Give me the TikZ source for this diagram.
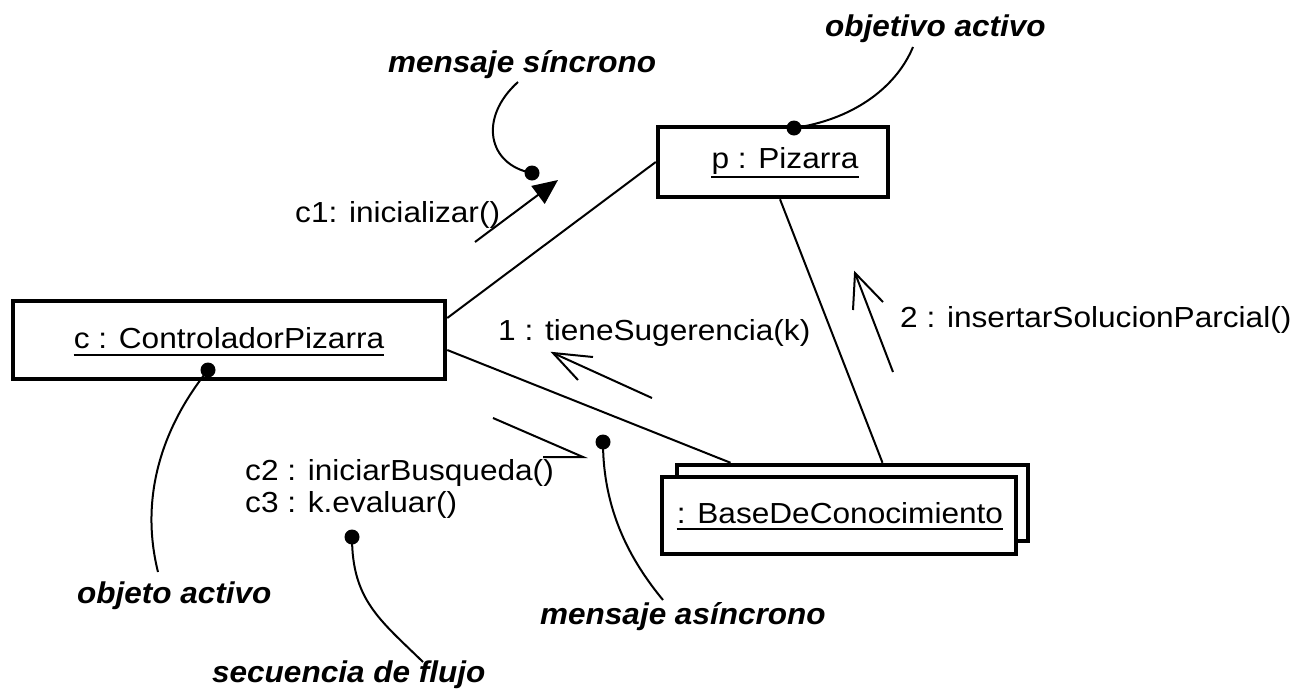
\documentclass[tikz,border=0pt]{standalone}
\usepackage{fontspec}
\setmainfont{Liberation Sans}[FakeStretch=1.09]
\newfontfamily\notefont{Liberation Sans}[FakeStretch=1.05]
\usetikzlibrary{arrows.meta}
\begin{document}
\begin{tikzpicture}[x=1pt,y=-1pt,
  objbox/.style={draw, line width=4.5pt, rectangle, inner sep=0pt, fill=white},
  lbl/.style={inner sep=0pt, font=\fontsize{29}{33}\selectfont, anchor=base},
  msg/.style={inner sep=0pt, font=\fontsize{29}{33}\selectfont, anchor=base west},
  note/.style={inner sep=0pt, font=\notefont\bfseries\itshape\fontsize{30}{34}\selectfont, anchor=base west},
  link/.style={line width=2pt},
  uline/.style={line width=2pt},
  callout/.style={line width=2pt},
  dotm/.style={circle, fill=black, inner sep=0pt, minimum size=15pt},
  stick/.style={line width=2pt, line join=miter, line cap=butt},
]
\useasboundingbox (0,0) rectangle (1303,694);

% object boxes
\node[objbox, minimum width=432pt, minimum height=78pt] (c) at (229,340) {};
\node[objbox, minimum width=230pt, minimum height=70pt] (p) at (773,162) {};
\node[objbox, minimum width=351pt, minimum height=76pt] (bb) at (852.5,503) {};
\node[objbox, minimum width=354pt, minimum height=77pt] (bf) at (839,515.5) {};

% box labels
\node[lbl] (ct) at (229,348) {c : ControladorPizarra};
\node[lbl] (pt) at (785,168) {p : Pizarra};
\node[lbl] (bt) at (840,523) {: BaseDeConocimiento};
\draw[uline] ([yshift=-7pt]ct.base west) -- ([yshift=-7pt]ct.base east);
\draw[uline] ([yshift=-9pt]pt.base west) -- ([yshift=-9pt]pt.base east);
\draw[uline] ([yshift=-6pt]bt.base west) -- ([yshift=-6pt]bt.base east);

% links
\draw[link] ([yshift=22pt]c.east) -- (p.west);
\draw[link] ([yshift=-10pt]c.east) -- ([xshift=-122pt]bb.north);
\draw[link] ([xshift=7pt]p.south) -- ([xshift=30pt]bb.north);

% message c1 (synchronous)
\coordinate (m1s) at (475,242);
\coordinate (m1e) at (558,180);
\draw[link, -{Triangle[length=25pt,width=22pt]}] (m1s) -- (m1e);
\node[msg] (m1t) at (295,222) {c1: inicializar()};

% message 1
\coordinate (m2tail) at (652,398);
\coordinate (m2tip) at (553,353);
\coordinate (m2b1) at (593,357);
\coordinate (m2b2) at (578,380);
\draw[stick] (m2tail) -- (m2tip);
\draw[stick] (m2b1) -- (m2tip) -- (m2b2);
\node[msg] (m2t) at (498,340) {1 : tieneSugerencia(k)};

% message 2
\coordinate (m3tail) at (893,372);
\coordinate (m3tip) at (855,273);
\coordinate (m3b1) at (853,310);
\coordinate (m3b2) at (883,302);
\draw[stick] (m3tail) -- (m3tip);
\draw[stick] (m3b1) -- (m3tip) -- (m3b2);
\node[msg] (m3t) at (900,327) {2 : insertarSolucionParcial()};

% message c2/c3 (asynchronous)
\coordinate (m4tail) at (493,418);
\coordinate (m4tip) at (583,457);
\coordinate (m4b) at (543,457);
\draw[stick] (m4tail) -- (m4tip) -- (m4b);
\node[msg] (m4t) at (245,480) {c2 : iniciarBusqueda()};
\node[msg] (m5t) at (245,512) {c3 : k.evaluar()};

% annotation dots
\node[dotm] (d1) at (532,173) {};
\node[dotm] (d2) at (794,128) {};
\node[dotm] (d3) at (208,370) {};
\node[dotm] (d4) at (352,537) {};
\node[dotm] (d5) at (603,442) {};

% annotation texts
\node[note] (n1) at (388,72) {mensaje síncrono};
\node[note] (n2) at (825,36) {objetivo activo};
\node[note] (n3) at (77,603) {objeto activo};
\node[note] (n4) at (212,682) {secuencia de flujo};
\node[note] (n5) at (540,624) {mensaje asíncrono};

% callout curves
\coordinate (e1) at (518,82);
\coordinate (e2) at (913,47);
\coordinate (e3) at (158,572);
\coordinate (e4) at (423,662);
\coordinate (e5) at (663,600);
\draw[callout] (e1) .. controls (478,118) and (488,165) .. (d1.center);
\draw[callout] (e2) .. controls (895,90) and (850,120) .. (d2.center);
\draw[callout] (d3.center) .. controls (160,430) and (140,500) .. (e3);
\draw[callout] (d4.center) .. controls (352,600) and (380,620) .. (e4);
\draw[callout] (d5.center) .. controls (603,510) and (630,560) .. (e5);
\end{tikzpicture}
\end{document}
